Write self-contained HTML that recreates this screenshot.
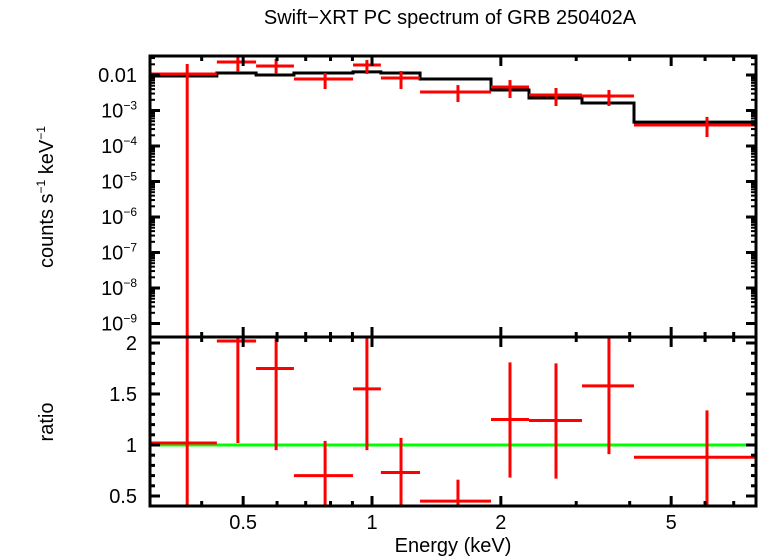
<!DOCTYPE html>
<html><head><meta charset="utf-8"><style>
html,body{margin:0;padding:0;background:#fff}
svg{display:block;font-family:"Liberation Sans",sans-serif}
</style></head><body>
<svg id="c" width="758" height="556">
<text x="450" y="24" font-size="20" text-anchor="middle">Swift−XRT PC spectrum of GRB 250402A</text>
<text transform="translate(53,197) rotate(-90)" font-size="20" text-anchor="middle">counts s<tspan font-size="12" dy="-8">−1</tspan><tspan dy="8"> keV</tspan><tspan font-size="12" dy="-8">−1</tspan></text>
<text transform="translate(53,422) rotate(-90)" font-size="20" text-anchor="middle">ratio</text>
<text x="453" y="552" font-size="20" text-anchor="middle">Energy (keV)</text>
</svg>
<script>
const binLo=[0.303,0.434,0.536,0.657,0.903,1.049,1.295,1.897,2.327,3.095,4.094];
const binHi=[0.434,0.536,0.657,0.903,1.049,1.295,1.897,2.327,3.095,4.094,7.9];
const binCenter=[0.370,0.486,0.597,0.777,0.973,1.169,1.588,2.101,2.691,3.578,6.063];
const dataVal=[0.0107,0.0232,0.0179,0.0077,0.0191,0.0082,0.00332,0.00459,0.00273,0.00256,0.00039];
const dataErrHi=[0.0204,0.0366,0.0282,0.0114,0.0264,0.0130,0.0052,0.0072,0.0043,0.00378,0.00066];
const dataErrLo=[1e-10,0.0122,0.0107,0.00403,0.0107,0.00403,0.00173,0.00225,0.00134,0.00134,0.000179];
const modelVal=[0.0094,0.0114,0.0100,0.0114,0.0122,0.0114,0.0077,0.00378,0.00225,0.00163,0.00047];
const ratioVal=[1.02,2.02,1.75,0.70,1.55,0.73,0.45,1.25,1.24,1.58,0.88];
const ratioErrHi=[3,2.1,3,1.04,3,1.07,0.66,1.81,1.80,2.06,1.34];
const ratioErrLo=[0,1.02,0.95,0,0.95,0,0,0.68,0.67,0.91,0.40];
const xTickMajor=[0.5,1,2,5];
const xTickMajorLabels=["0.5","1","2","5"];
const xTickMinor=[0.4,0.6,0.7,0.8,0.9,3,4,6,7];
const yTopExp=[-2,-3,-4,-5,-6,-7,-8,-9];
const yBotTicks=[2,1.5,1,0.5];
const yBotLabels=["2","1.5","1","0.5"];

const L=150,R=756,T=56,M=337,B=506;
const X=e=>Math.max(L,Math.min(R,372+Math.log10(e)*428));
const YT=v=>{let y=75-(Math.log10(v)+2)*35.5;return Math.max(T,Math.min(M,y));};
const YB=v=>{let y=445-(v-1)*102;return Math.max(M,Math.min(B,y));};
const svg=document.getElementById('c');
const NS='http://www.w3.org/2000/svg';
function el(tag,a,parent){const e=document.createElementNS(NS,tag);for(const k in a)e.setAttribute(k,a[k]);(parent||svg).appendChild(e);return e;}
function line(x1,y1,x2,y2,c,w,name){const e=el('line',{x1,y1,x2,y2,stroke:c,'stroke-width':w});

return e;}

let d='';
for(let i=0;i<binLo.length;i++){d+=(i?'L':'M')+X(binLo[i])+','+YT(modelVal[i])+'L'+X(binHi[i])+','+YT(modelVal[i]);}
const mp=el('path',{d,fill:'none',stroke:'#000','stroke-width':3});


for(let i=0;i<binLo.length;i++){
line(X(binLo[i]),YT(dataVal[i]),X(binHi[i]),YT(dataVal[i]),'#f00',3,'data-point-xerr');
line(X(binCenter[i]),YT(dataErrHi[i]),X(binCenter[i]),YT(dataErrLo[i]),'#f00',3,'data-point-yerr');
}
line(L,YB(1),R,YB(1),'#0f0',3,'ratio-unity-line');
for(let i=0;i<binLo.length;i++){
line(X(binLo[i]),YB(ratioVal[i]),X(binHi[i]),YB(ratioVal[i]),'#f00',3,'ratio-point-xerr');
line(X(binCenter[i]),YB(ratioErrHi[i]),X(binCenter[i]),YB(ratioErrLo[i]),'#f00',3,'ratio-point-yerr');
}
for(const [y1,y2,n] of [[T,M,'top-panel-frame'],[M,B,'bottom-panel-frame']]){
const r=el('rect',{x:L,y:y1,width:R-L,height:y2-y1,fill:'none',stroke:'#000','stroke-width':3});

}
for(const [y1,y2] of [[T,M],[M,B]]){
xTickMajor.forEach(e=>{const x=X(e);line(x,y1,x,y1+10,'#000',3,'x-tick-major');line(x,y2,x,y2-10,'#000',3,'x-tick-major');});
xTickMinor.forEach(e=>{const x=X(e);line(x,y1,x,y1+5,'#000',3,'x-tick-minor');line(x,y2,x,y2-5,'#000',3,'x-tick-minor');});
}
xTickMajor.forEach((e,i)=>{const t=el('text',{x:X(e),y:529,'font-size':20,'text-anchor':'middle'});t.textContent=xTickMajorLabels[i];

});
yTopExp.forEach(p=>{
const y=YT(Math.pow(10,p));line(L,y,L+10,y,'#000',3,'y-tick-major');line(R,y,R-10,y,'#000',3,'y-tick-major');
for(let k=2;k<10;k++){const ym=YT(k*Math.pow(10,p));if(ym>T&&ym<M){line(L,ym,L+5,ym,'#000',2,'y-tick-minor');line(R,ym,R-5,ym,'#000',2,'y-tick-minor');}}
const t=el('text',{x:137,y:y+7,'font-size':20,'text-anchor':'end'});
if(p===-2)t.textContent='0.01';else{t.textContent='10';const s=el('tspan',{'font-size':12,dy:-8},t);s.textContent='−'+(-p);}


});
for(let v=0.4;v<=2.06;v+=0.1){const y=YB(v);const maj=Math.abs(v*2-Math.round(v*2))<0.01;
line(L,y,L+(maj?10:5),y,'#000',3,'y-tick-bottom');line(R,y,R-(maj?10:5),y,'#000',3,'y-tick-bottom');}
yBotTicks.forEach((v,i)=>{const t=el('text',{x:137,y:YB(v)+7,'font-size':20,'text-anchor':'end'});t.textContent=yBotLabels[i];

});
</script>
</body></html>
